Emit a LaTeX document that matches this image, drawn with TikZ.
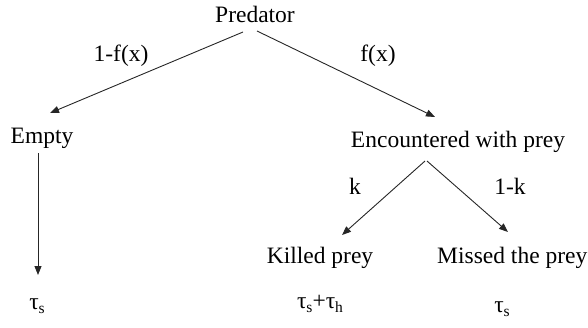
\documentclass[tikz,border=0pt]{standalone}
\usepackage{fontspec}
\setmainfont{Liberation Serif}
\usetikzlibrary{arrows.meta,calc}
\newcommand{\mysub}[1]{\raisebox{-4pt}{\fontsize{15.5}{15.5}\selectfont #1}}
\begin{document}
\begin{tikzpicture}[x=1pt,y=-1pt,
  lbl/.style={inner sep=0pt,anchor=base,font=\fontsize{23.5}{28}\selectfont},
  arr/.style={-{Triangle[length=9pt,width=7pt]},line width=0.9pt,black!85}]
\useasboundingbox (0,0) rectangle (588,327);
\node[lbl] (pred) at (255,22) {Predator};
\node[lbl] (empty) at (42,143) {Empty};
\node[lbl] (enc) at (458,147) {Encountered with prey};
\node[lbl] (killed) at (320,263) {Killed prey};
\node[lbl,anchor=base west] (missed) at (437,263) {Missed the prey};
\node[lbl] (lfx) at (121,61) {1-f(x)};
\node[lbl] (fx) at (378,61) {f(x)};
\node[lbl] (lk) at (355,194) {k};
\node[lbl] (l1k) at (510,194) {1-k};
\node[lbl] (t1) at (37,309) {τ\mysub{s}};
\node[lbl] (t2) at (320,308) {τ\mysub{s}+τ\mysub{h}};
\node[lbl] (t3) at (502,312) {τ\mysub{s}};
\draw[arr] ($(pred.base)+(-12,10)$) -- ($(empty.base)+(8,-30)$);
\draw[arr] ($(pred.base)+(2,9)$) -- ($(enc.base)+(-23,-30)$);
\draw[arr] ($(empty.base)+(-4,10)$) -- ($(t1.base)+(1,-34)$);
\draw[arr] ($(enc.base)+(-33,14)$) -- ($(killed.base)+(22,-28)$);
\draw[arr] ($(enc.base)+(-31,14)$) -- ($(missed.base west)+(71,-31)$);
\end{tikzpicture}
\end{document}
